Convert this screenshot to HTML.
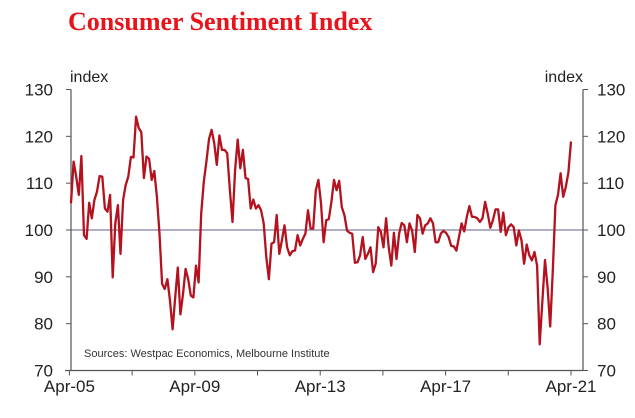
<!DOCTYPE html>
<html><head><meta charset="utf-8"><style>
body{margin:0;background:#fff;width:635px;height:418px;overflow:hidden}
svg{display:block}
text{font-family:"Liberation Sans",sans-serif}
</style></head><body>
<svg id="chart" width="635" height="418">
<text x="68" y="30" font-weight="bold" font-size="26" fill="#e8141c" style="font-family:'Liberation Serif',serif">Consumer Sentiment Index</text>
<text x="70" y="82" font-size="16" fill="#222">index</text>
<text x="583" y="82" font-size="16" fill="#222" text-anchor="end">index</text>
<text x="84" y="357" font-size="11" fill="#333">Sources: Westpac Economics, Melbourne Institute</text>
<g id="axes"></g>
<g id="series"></g>
</svg>
<script>
const yTicks=[70,80,90,100,110,120,130];
const xLabels=["Apr-05","Apr-09","Apr-13","Apr-17","Apr-21"];
const xLabelYears=[2005.25,2009.25,2013.25,2017.25,2021.25];
const startYear=2005.3, endYear=2021.25;
const sentiment=[105.7,114.6,111.4,107.5,115.8,98.9,98.1,105.8,102.5,106.4,108.2,111.5,111.4,104.6,103.9,107.5,89.9,101.4,105.3,94.9,106.4,109.6,111.4,115.6,115.5,124.2,121.8,120.9,111.1,115.7,115.2,110.7,112.6,107.1,99.2,88.5,87.4,89.5,84.9,78.8,85.6,92,82,86.3,91.7,89.5,86,85.6,92.4,88.8,103.5,110.3,114.6,119.4,121.4,118.6,113.9,120.2,117.1,117.1,116.4,108.5,101.7,112.8,119.3,113.2,117.1,111.1,110.9,104.6,106.5,104.6,105.3,104.2,101.4,94.2,89.5,97.1,97.4,103.2,94.9,97.8,101,96.3,94.6,95.5,95.6,98.9,96.7,98.1,99.2,104.2,100.3,100.3,108.5,110.7,105.7,97.4,102.1,102.3,106,110.7,108.5,110.5,104.9,103.2,99.9,99.4,99.2,93,93.1,94.6,98.5,93.8,94.9,96.3,91,92.8,100.6,99.6,96.3,102.5,96.3,92.4,99.4,93.8,99.2,101.5,101,97.4,101.4,99.9,95.3,103.2,102.5,99.2,101,101.4,102.5,101.4,97.4,97.4,99.2,99.8,99.4,98.5,96.6,96.5,95.6,98.5,101.4,99.7,102.8,105.1,102.8,102.8,102.5,101.7,102.5,106,103.5,100.5,102.1,104.4,104.4,99.6,103.7,98.9,100.6,101.2,100.6,96.7,99.9,97.8,92.8,96.9,94.6,93.5,95.3,92.4,75.6,84.9,93.6,87.7,79.4,91.3,105.3,107.5,112.1,107.1,109.2,112.3,118.9];
const L=71,R=583,T=89.5,B=370.5,ymin=70,ymax=130;
const X0=71,X1=571;
function xs(yr){return X0+(yr-startYear)/(endYear-startYear)*(X1-X0);}
function ys(v){return B-(v-ymin)/(ymax-ymin)*(B-T);}
const NS="http://www.w3.org/2000/svg";
const axes=document.getElementById('axes'),ser=document.getElementById('series');
function mk(tag,attrs,parent){const e=document.createElementNS(NS,tag);for(const k in attrs)e.setAttribute(k,attrs[k]);parent.appendChild(e);return e;}
let ref=mk('line',{x1:L,x2:R,y1:ys(100),y2:ys(100),stroke:'#9a93b0','stroke-width':1.5},axes);


let la=mk('line',{x1:L,x2:L,y1:T,y2:B,stroke:'#555','stroke-width':1.2},axes);


let ra=mk('line',{x1:R,x2:R,y1:T,y2:B,stroke:'#555','stroke-width':1.2},axes);


let ba=mk('line',{x1:L-6,x2:R,y1:B,y2:B,stroke:'#555','stroke-width':1.2},axes);


yTicks.forEach(v=>{const y=ys(v);
 mk('line',{x1:L-5,x2:L,y1:y,y2:y,stroke:'#555'},axes);
 mk('line',{x1:R,x2:R+5,y1:y,y2:y,stroke:'#555'},axes);
 let t=mk('text',{x:53,y:y+6,'font-size':17,'text-anchor':'end',fill:'#222'},axes);t.textContent=v;
 
 
 let t2=mk('text',{x:597,y:y+6,'font-size':17,fill:'#222'},axes);t2.textContent=v;
 
 
});
for(let yr=2005.25;yr<=2021.3;yr+=2){const x=xs(yr);mk('line',{x1:x,x2:x,y1:B,y2:B+5,stroke:'#555'},axes);}
xLabels.forEach((s,i)=>{let t=mk('text',{x:xs(xLabelYears[i]),y:392,'font-size':17,'text-anchor':'middle',fill:'#222'},axes);t.textContent=s;
 
 });
const n=sentiment.length;
const pts=sentiment.map((v,i)=>xs(startYear+i*(endYear-startYear)/(n-1)).toFixed(1)+','+ys(v).toFixed(1)).join(' ');
let pl=mk('polyline',{points:pts,fill:'none',stroke:'#b3121e','stroke-width':2.3,'stroke-linejoin':'round'},ser);


</script>
</body></html>
